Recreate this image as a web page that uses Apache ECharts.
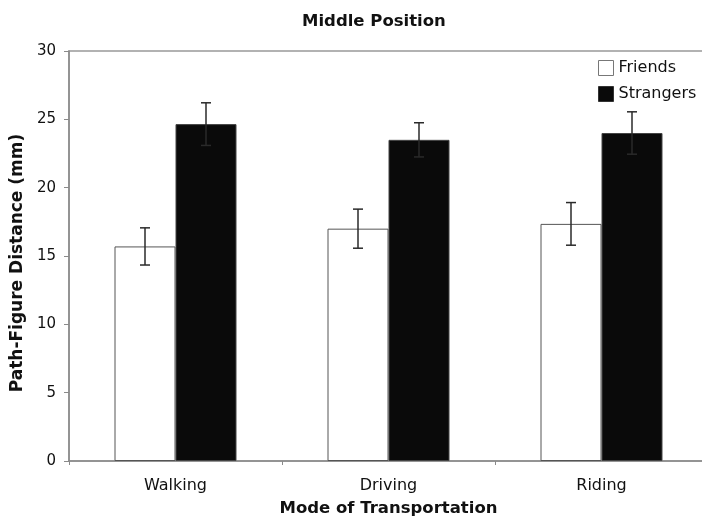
<!DOCTYPE html>
<html>
<head>
<meta charset="utf-8">
<script src="https://cdn.jsdelivr.net/npm/echarts@6/dist/echarts.min.js"></script>
<style>
  html, body { margin: 0; padding: 0; background: #fff; overflow: hidden; }
  #chart { width: 720px; height: 522px; }
</style>
</head>
<body>
<div id="chart"></div>
<script>
// Mean path-figure distance (mm) by mode of transportation, middle position
const categories = ['Walking', 'Driving', 'Riding'];
const friends = [15.7, 17.0, 17.35];
const friendsErr = [1.36, 1.43, 1.56];
const strangers = [24.65, 23.5, 24.0];
const strangersErr = [1.56, 1.25, 1.55];
const yTicks = [0, 5, 10, 15, 20, 25, 30];

const FONT = '"DejaVu Sans", Verdana, sans-serif';
const BAR_W = 61;

// error bar drawn centred on a bar, shifted by `shift` bar widths from the category centre
function errorSeries(values, errors, shift) {
  const data = values.map((v, i) => [i, v - errors[i], v + errors[i]]);
  return {
    type: 'custom',
    z: 5,
    silent: true,
    data: data,
    renderItem: function (params, api) {
      const i = api.value(0);
      const lo = api.coord([i, api.value(1)]);
      const hi = api.coord([i, api.value(2)]);
      const x = lo[0] + shift * BAR_W;
      const cap = 5;
      const style = { stroke: '#2a2a2a', lineWidth: 1.5 };
      return {
        type: 'group',
        children: [
          { type: 'line', shape: { x1: x, y1: lo[1], x2: x, y2: hi[1] }, style: style },
          { type: 'line', shape: { x1: x - cap, y1: hi[1], x2: x + cap, y2: hi[1] }, style: style },
          { type: 'line', shape: { x1: x - cap, y1: lo[1], x2: x + cap, y2: lo[1] }, style: style }
        ]
      };
    }
  };
}

const chart = echarts.init(document.getElementById('chart'), null, { renderer: 'canvas' });
chart.setOption({
  animation: false,
  backgroundColor: '#ffffff',
  textStyle: { fontFamily: FONT, color: '#111' },
  title: {
    text: 'Middle Position',
    left: 297,
    top: 8,
    textStyle: { fontFamily: FONT, fontSize: 16.5, fontWeight: 'bold', color: '#111' }
  },
  legend: {
    orient: 'vertical',
    left: 593,
    top: 55,
    itemWidth: 15,
    itemHeight: 15,
    itemGap: 10,
    icon: 'rect',
    textStyle: { fontFamily: FONT, fontSize: 16, color: '#111' },
    data: [
      { name: 'Friends', itemStyle: { color: '#fff', borderColor: '#777', borderWidth: 1 } },
      { name: 'Strangers', itemStyle: { color: '#0a0a0a', borderColor: '#333', borderWidth: 1 } }
    ]
  },
  grid: {
    left: 69,
    top: 51,
    width: 639,
    height: 410,
    show: true,
    borderColor: '#999',
    borderWidth: 1.5,
    backgroundColor: 'transparent'
  },
  xAxis: {
    type: 'category',
    data: categories,
    name: 'Mode of Transportation',
    nameLocation: 'middle',
    nameGap: 39,
    nameTextStyle: { fontFamily: FONT, fontSize: 16.5, fontWeight: 'bold', color: '#111' },
    axisLine: { lineStyle: { color: '#8a8a8a', width: 1.5 } },
    axisTick: { show: true, length: 4, lineStyle: { color: '#8a8a8a' } },
    axisLabel: { margin: 17, fontFamily: FONT, fontSize: 16, color: '#111' },
    splitLine: { show: false }
  },
  yAxis: {
    type: 'value',
    min: yTicks[0],
    max: yTicks[yTicks.length - 1],
    interval: 5,
    axisLine: { show: true, lineStyle: { color: '#8a8a8a', width: 1.5 } },
    axisTick: { show: true, length: 5, lineStyle: { color: '#8a8a8a' } },
    axisLabel: { margin: 13, fontFamily: FONT, fontSize: 15, color: '#111' },
    splitLine: { show: false }
  },
  graphic: [
    {
      type: 'text',
      x: 17.5,
      y: 263,
      rotation: Math.PI / 2,
      style: {
        text: 'Path-Figure Distance (mm)',
        font: 'bold 17px ' + FONT,
        fill: '#111',
        align: 'center',
        verticalAlign: 'middle'
      }
    }
  ],
  series: [
    {
      name: 'Friends',
      type: 'bar',
      data: friends,
      barWidth: BAR_W,
      barGap: '0%',
      itemStyle: { color: '#ffffff', borderColor: '#555', borderWidth: 1 }
    },
    {
      name: 'Strangers',
      type: 'bar',
      data: strangers,
      barWidth: BAR_W,
      barGap: '0%',
      itemStyle: { color: '#0a0a0a', borderColor: '#444', borderWidth: 1 }
    },
    errorSeries(friends, friendsErr, -0.5),
    errorSeries(strangers, strangersErr, 0.5)
  ]
});
</script>
</body>
</html>
